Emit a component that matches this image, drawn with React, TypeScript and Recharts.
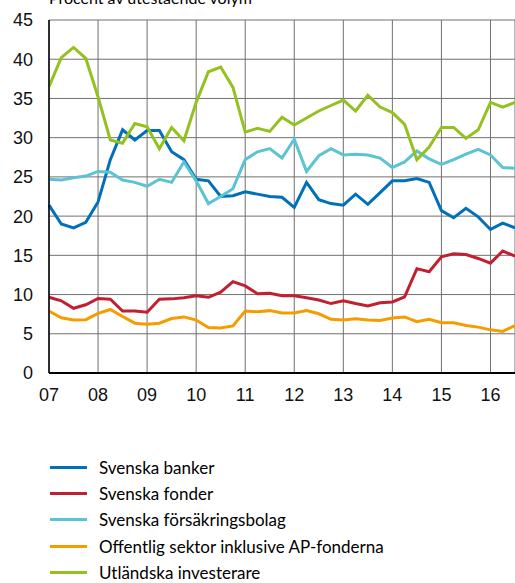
import { LineChart, Line, XAxis, YAxis, CartesianGrid } from "recharts";

// quarterly observations, 2007 Q1 - 2016 Q3
const quarters = [
  "07K1", "07K2", "07K3", "07K4", "08K1", "08K2", "08K3", "08K4",
  "09K1", "09K2", "09K3", "09K4", "10K1", "10K2", "10K3", "10K4",
  "11K1", "11K2", "11K3", "11K4", "12K1", "12K2", "12K3", "12K4",
  "13K1", "13K2", "13K3", "13K4", "14K1", "14K2", "14K3", "14K4",
  "15K1", "15K2", "15K3", "15K4", "16K1", "16K2", "16K3",
];

const banker = [
  21.4, 19.0, 18.5, 19.2, 21.8, 27.2, 31.0, 29.7, 30.9, 30.9, 28.2, 27.2, 24.7,
  24.5, 22.5, 22.6, 23.1, 22.8, 22.5, 22.4, 21.1, 24.3, 22.1, 21.6, 21.4, 22.8,
  21.5, 23.0, 24.5, 24.5, 24.8, 24.3, 20.7, 19.8, 21.0, 19.9, 18.3, 19.1, 18.5,
];

const fonder = [
  9.65, 9.2, 8.25, 8.7, 9.5, 9.4, 7.9, 7.9, 7.75, 9.4, 9.45, 9.6, 9.85,
  9.65, 10.3, 11.65, 11.1, 10.1, 10.15, 9.85, 9.85, 9.6, 9.3, 8.85, 9.2, 8.85,
  8.55, 8.95, 9.05, 9.7, 13.3, 12.9, 14.8, 15.2, 15.1, 14.6, 14.0, 15.55, 14.9,
];

const forsakring = [
  24.7, 24.6, 24.9, 25.1, 25.7, 25.6, 24.6, 24.3, 23.8, 24.7, 24.3, 26.9, 24.5,
  21.6, 22.5, 23.5, 27.2, 28.2, 28.6, 27.4, 29.8, 25.7, 27.7, 28.6, 27.8, 27.9,
  27.8, 27.4, 26.2, 26.9, 28.3, 27.3, 26.6, 27.2, 27.9, 28.5, 27.8, 26.2, 26.1,
];

const offentlig = [
  7.9, 7.05, 6.75, 6.8, 7.6, 8.1, 7.2, 6.35, 6.2, 6.35, 6.95, 7.15, 6.75,
  5.8, 5.75, 6.0, 7.9, 7.8, 7.95, 7.65, 7.65, 7.95, 7.55, 6.85, 6.75, 6.9,
  6.75, 6.7, 7.0, 7.15, 6.55, 6.85, 6.4, 6.4, 6.05, 5.85, 5.5, 5.3, 6.05,
];

const utlandska = [
  36.5, 40.2, 41.5, 40.1, 35.2, 29.7, 29.3, 31.8, 31.4, 28.6, 31.3, 29.6, 34.5,
  38.4, 39.0, 36.4, 30.7, 31.2, 30.8, 32.6, 31.6, 32.5, 33.4, 34.1, 34.8, 33.4,
  35.4, 33.9, 33.2, 31.7, 27.2, 28.8, 31.3, 31.3, 29.9, 31.0, 34.5, 33.9, 34.5,
];

const xTicks = [7, 8, 9, 10, 11, 12, 13, 14, 15, 16];
const yTicks = [0, 5, 10, 15, 20, 25, 30, 35, 40, 45];

const series = [
  { key: "banker", name: "Svenska banker", color: "#0070B8" },
  { key: "fonder", name: "Svenska fonder", color: "#C0202F" },
  { key: "forsakring", name: "Svenska försäkringsbolag", color: "#5BC3D2" },
  { key: "offentlig", name: "Offentlig sektor inklusive AP-fonderna", color: "#F59C00" },
  { key: "utlandska", name: "Utländska investerare", color: "#94C11F" },
];

const data = quarters.map((q, i) => ({
  q,
  t: 7 + i / 4,
  banker: banker[i],
  fonder: fonder[i],
  forsakring: forsakring[i],
  offentlig: offentlig[i],
  utlandska: utlandska[i],
}));

const tickStyle = { fontFamily: "'Liberation Sans', Arial, sans-serif", fontSize: 18, fill: "#111" };

export default function App() {
  return (
    <div style={{ position: "absolute", left: 0, top: 0, width: 515, height: 583, overflow: "hidden", background: "#fff" }}>
      <div
        style={{
          position: "absolute",
          left: 49,
          top: -10,
          fontFamily: "Lato, sans-serif",
          fontSize: 16,
          lineHeight: "16px",
          whiteSpace: "nowrap",
        }}
      >
        Procent av utestående volym
      </div>
      <LineChart width={515} height={420} data={data} margin={{ top: 20, right: 0, left: 0, bottom: 0 }}>
        <CartesianGrid stroke="#707070" strokeWidth={1} />
        <XAxis
          dataKey="t"
          type="number"
          domain={[7, 16.5]}
          ticks={xTicks}
          tickFormatter={(v: number) => String(v).padStart(2, "0")}
          tick={tickStyle}
          tickLine={false}
          tickSize={0}
          tickMargin={15}
          axisLine={{ stroke: "#000", strokeWidth: 2 }}
          height={47}
          interval={0}
        />
        <YAxis
          type="number"
          domain={[0, 45]}
          ticks={yTicks}
          tick={tickStyle}
          tickLine={false}
          tickSize={0}
          tickMargin={16}
          axisLine={{ stroke: "#000", strokeWidth: 1.5 }}
          width={49}
          interval={0}
        />
        {series.map((s) => (
          <Line
            key={s.key}
            dataKey={s.key}
            name={s.name}
            stroke={s.color}
            strokeWidth={3}
            dot={false}
            type="linear"
            isAnimationActive={false}
          />
        ))}
      </LineChart>
      <div style={{ position: "absolute", left: 50, top: 454, fontFamily: "Lato, sans-serif", fontSize: 17 }}>
        {series.map((s) => (
          <div key={s.key} style={{ display: "flex", alignItems: "center", height: 26.4 }}>
            <span style={{ display: "inline-block", width: 37, height: 3, background: s.color, marginRight: 12 }} />
            <span>{s.name}</span>
          </div>
        ))}
      </div>
    </div>
  );
}
